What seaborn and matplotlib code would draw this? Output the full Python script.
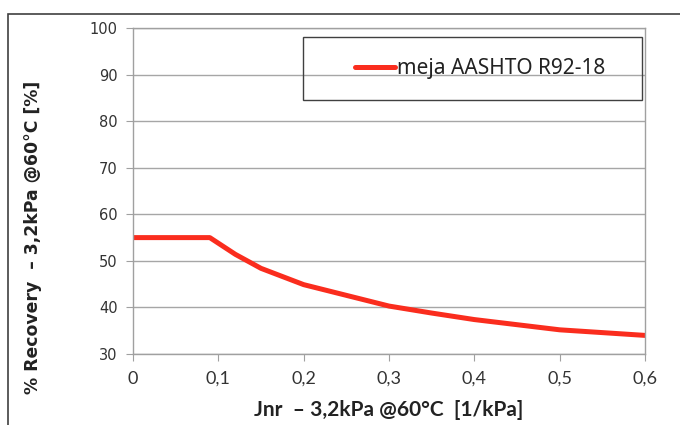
import numpy as np
import pandas as pd
import matplotlib
matplotlib.use('Agg')
import matplotlib.pyplot as plt
import seaborn as sns
from matplotlib.ticker import FuncFormatter
from matplotlib.patches import Rectangle

# values
jnr = [0.0, 0.05, 0.09, 0.12, 0.15, 0.2, 0.25, 0.3, 0.35, 0.4, 0.45, 0.5, 0.55, 0.6]
recovery = [55.0, 55.0, 55.0, 51.4, 48.4, 44.9, 42.6, 40.3, 38.8, 37.4, 36.3, 35.2, 34.6, 34.0]
series_name = 'meja AASHTO R92-18'

df = pd.DataFrame({'Jnr': jnr, 'Recovery': recovery, 'serija': series_name})

sns.set_style('white')
plt.rcParams['font.family'] = ['DejaVu Sans']

fig = plt.figure(figsize=(6.8, 4.25), dpi=100)
ax = fig.add_axes([0.1956, 0.167, 0.7529, 0.767])

sns.lineplot(data=df, x='Jnr', y='Recovery', hue='serija', palette=['#fa2d1e'],
             linewidth=3.6, ax=ax, legend=True)

ax.set_xlim(0, 0.6)
ax.set_ylim(30, 100)
ax.set_xticks(np.arange(0, 0.61, 0.1))
ax.set_yticks(range(30, 101, 10))
ax.xaxis.set_major_formatter(FuncFormatter(lambda v, p: '0' if abs(v) < 1e-9 else ('%.1f' % v).replace('.', ',')))
ax.yaxis.grid(True, color='#a6a6a6', linewidth=1)
ax.xaxis.grid(False)
for s in ax.spines.values():
    s.set_color('#a0a0a0')
    s.set_linewidth(1)
ax.tick_params(axis='both', which='both', length=5, color='#a0a0a0', direction='out',
               left=True, bottom=True, colors='#333333')
ax.tick_params(axis='y', labelsize=10.5, pad=6)
ax.tick_params(axis='x', labelsize=13, pad=7)
for t in ax.get_xticklabels():
    t.set_family('Lato')

ax.set_xlabel('Jnr  – 3,2kPa @60°C  [1/kPa]', fontsize=15, fontweight='bold',
              family='Lato', color='#222222')
ax.xaxis.set_label_coords(0.5, -0.141)
ax.set_ylabel('% Recovery  – 3,2kPa @60°C [%]', fontsize=12.4, fontweight='bold',
              color='#222222')
ax.yaxis.set_label_coords(-0.178, 0.359)

leg = ax.legend(loc='center', bbox_to_anchor=(0.678, 0.8755), frameon=False,
                fontsize=15, handlelength=1.9, handletextpad=0.1, borderaxespad=0)
for t in leg.get_texts():
    t.set_family('Noto Sans')
    t.set_color('#222222')

# legend box
ax.add_patch(Rectangle((0.332, 0.779), 0.662, 0.193, transform=ax.transAxes,
                       fill=False, edgecolor='#404040', linewidth=1, zorder=5))

# outer chart frame
fig.patches.append(Rectangle((8 / 680, -0.1), 1.1, 1 - 14 / 425 + 0.1, transform=fig.transFigure,
                             fill=False, edgecolor='#404040', linewidth=1.2, clip_on=False))

fig.savefig('out.png', dpi=100)
